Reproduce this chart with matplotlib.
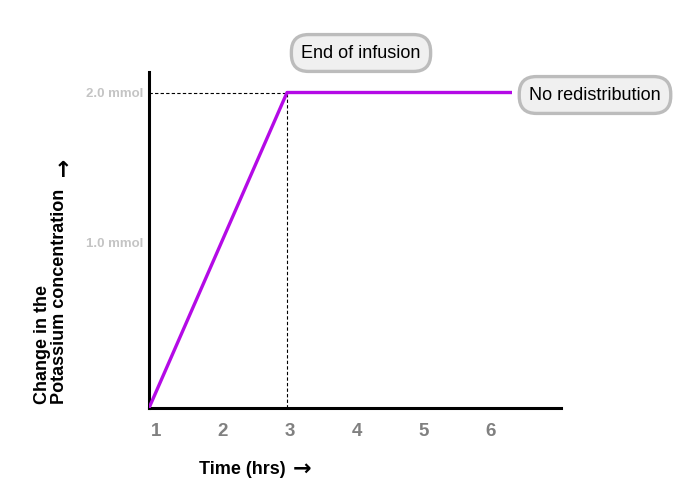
import matplotlib
matplotlib.use("Agg")
import matplotlib.pyplot as plt

# infusion curve (hours, mmol)
time_hrs = [1, 3, 6.26]
k_change = [0.0, 2.0, 2.0]
x_ticks = [1, 2, 3, 4, 5, 6]
y_ticks = [1.0, 2.0]
y_tick_labels = ["1.0 mmol", "2.0 mmol"]
end_of_infusion = 3
plateau = 2.0

FONT = ["Liberation Sans", "DejaVu Sans"]

fig = plt.figure(figsize=(6.85, 4.88), dpi=100)
ax = fig.add_axes([149 / 685, 80 / 488, 412 / 685, 336 / 488])

ax.plot(time_hrs, k_change, color="#b40ae6", linewidth=2.4, solid_capstyle="butt", zorder=3)

# dashed guides to end of infusion
ax.plot([x_ticks[0], end_of_infusion], [plateau, plateau], color="black", linewidth=0.8,
        linestyle=(0, (3, 2)), zorder=2)
ax.plot([end_of_infusion, end_of_infusion], [0, plateau], color="black", linewidth=0.8,
        linestyle=(0, (3, 2)), zorder=2)

ax.set_xlim(1, 6.97)
ax.set_ylim(0, 2.13)

ax.spines["top"].set_visible(False)
ax.spines["right"].set_visible(False)
ax.spines["left"].set_linewidth(2.2)
ax.spines["bottom"].set_linewidth(2.2)

ax.set_xticks([x + 0.1 - 0.03 * (x - 1) for x in x_ticks])
ax.set_xticklabels([str(x) for x in x_ticks], family=FONT, fontsize=13.5,
                   fontweight="bold", color="#808080")
ax.tick_params(axis="x", length=0, pad=11)

ax.set_yticks([1.05, 2.0])
ax.set_yticklabels(y_tick_labels, family=FONT, fontsize=9.5,
                   fontweight="bold", color="#c4c4c4")
ax.tick_params(axis="y", length=0, pad=4)

box = dict(boxstyle="round,pad=0.55,rounding_size=0.95", facecolor="#f0f0f0",
           edgecolor="#bcbcbc", linewidth=2.4)
fig.text(361 / 685, 1 - 53 / 488, "End of infusion", family=FONT, fontsize=13,
         ha="center", va="center", bbox=box)
fig.text(595 / 685, 1 - 95 / 488, "No redistribution", family=FONT, fontsize=13,
         ha="center", va="center", bbox=box)

# axis titles, arrows drawn in DejaVu for a full-size glyph
fig.text(242 / 685, 1 - 470 / 488, "Time (hrs)", family=FONT, fontsize=13,
         fontweight="bold", ha="center", va="center")
fig.text(302 / 685, 1 - 469 / 488, "\u2192", family="DejaVu Sans", fontsize=16,
         fontweight="bold", ha="center", va="center")
fig.text(51 / 685, 1 - 404 / 488, "Change in the\nPotassium concentration",
         family=FONT, fontsize=13, fontweight="bold", rotation=90,
         ha="center", va="bottom", multialignment="left", linespacing=1.05)
fig.text(63 / 685, 1 - 171 / 488, "\u2191", family="DejaVu Sans", fontsize=16,
         fontweight="bold", ha="center", va="center")

fig.savefig("out.png", dpi=100)
